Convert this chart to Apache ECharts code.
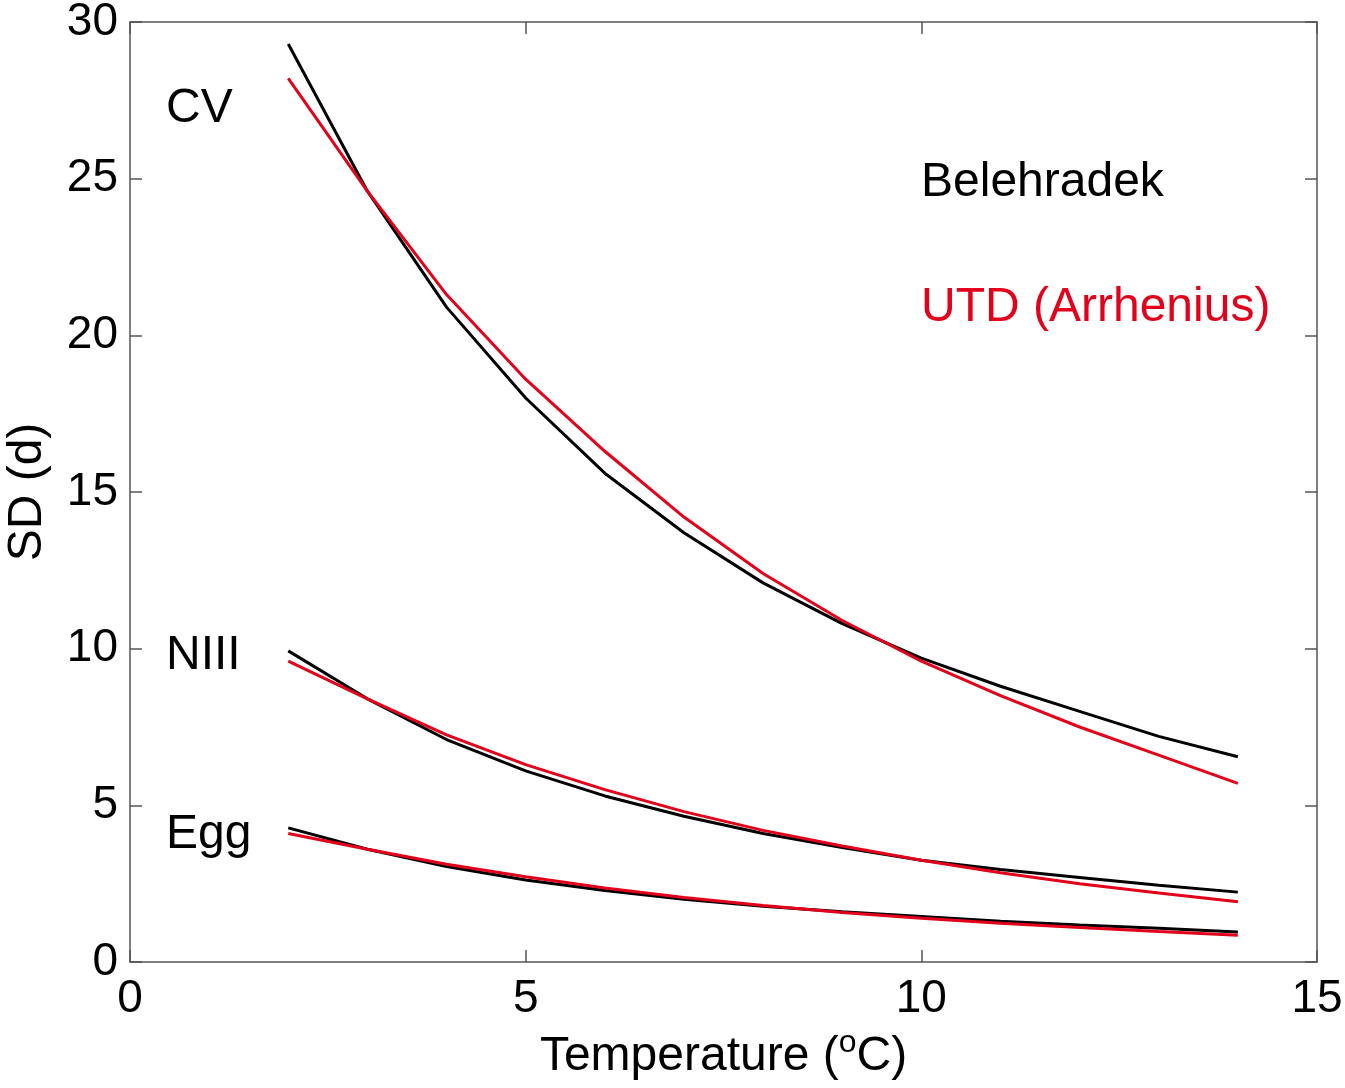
<!DOCTYPE html>
<html>
<head>
<meta charset="utf-8">
<script src="https://cdn.jsdelivr.net/npm/echarts@6/dist/echarts.min.js"></script>
<style>
  html, body { margin: 0; padding: 0; background: #fff; }
  #chart { width: 1345px; height: 1088px; }
</style>
</head>
<body>
<div id="chart"></div>
<script>
// Temperature (°C) at which standard deviation of stage duration is evaluated
const temps = [2, 3, 4, 5, 6, 7, 8, 9, 10, 11, 12, 13, 14];

// Belehradek model (black)
const cvBel   = [29.3, 24.6, 20.9, 18.0, 15.6, 13.7, 12.1, 10.8, 9.7, 8.8, 8.0, 7.2, 6.55];
const n3Bel   = [9.93, 8.4, 7.1, 6.1, 5.3, 4.65, 4.1, 3.65, 3.25, 2.95, 2.7, 2.45, 2.23];
const eggBel  = [4.28, 3.6, 3.05, 2.62, 2.28, 2.0, 1.78, 1.6, 1.45, 1.3, 1.18, 1.08, 0.96];

// UTD (Arrhenius) model (red)
const cvArr   = [28.2, 24.6, 21.3, 18.6, 16.3, 14.2, 12.4, 10.9, 9.6, 8.5, 7.5, 6.6, 5.7];
const n3Arr   = [9.6, 8.4, 7.25, 6.3, 5.5, 4.8, 4.2, 3.7, 3.25, 2.85, 2.5, 2.2, 1.92];
const eggArr  = [4.1, 3.6, 3.12, 2.72, 2.36, 2.06, 1.8, 1.58, 1.4, 1.24, 1.1, 0.97, 0.85];

const BLACK = '#000000';
const RED = '#e3001b';
const FONT = '"Liberation Sans", Arial, Helvetica, sans-serif';

function pairs(xs, ys) { return xs.map((x, i) => [x, ys[i]]); }

function curve(name, ys, color) {
  return {
    name, type: 'line', data: pairs(temps, ys),
    showSymbol: false, smooth: false,
    lineStyle: { color, width: 3 },
    itemStyle: { color },
    z: color === RED ? 3 : 2
  };
}

const axisLine = { show: true, onZero: false, lineStyle: { color: '#555', width: 1.5 } };
const tickStyle = { show: true, inside: true, length: 12, lineStyle: { color: '#555', width: 1.5 } };

const chart = echarts.init(document.getElementById('chart'));
chart.setOption({
  backgroundColor: '#fff',
  animation: false,
  grid: { left: 130, right: 28, top: 22, bottom: 126, containLabel: false, outerBoundsMode: 'none' },
  xAxis: [
    {
      type: 'value', min: 0, max: 15, interval: 5, position: 'bottom',
      axisLine, axisTick: tickStyle, splitLine: { show: false },
      axisLabel: { color: '#000', fontSize: 46, fontFamily: FONT, margin: 14 },
      name: 'Temperature ({sup|o}C)', nameLocation: 'middle', nameGap: 64,
      nameTextStyle: {
        color: '#000', fontSize: 48, fontFamily: FONT, lineHeight: 60, verticalAlign: 'top',
        rich: {
          sup: { fontSize: 32, fontFamily: FONT, color: '#000', verticalAlign: 'top', lineHeight: 32 }
        }
      }
    },
    {
      type: 'value', min: 0, max: 15, interval: 5, position: 'top',
      axisLine, axisTick: tickStyle, axisLabel: { show: false }, splitLine: { show: false }
    }
  ],
  yAxis: [
    {
      type: 'value', min: 0, max: 30, interval: 5, position: 'left',
      axisLine, axisTick: tickStyle, splitLine: { show: false },
      axisLabel: { color: '#000', fontSize: 46, fontFamily: FONT, margin: 12 },
      name: 'SD (d)', nameLocation: 'middle', nameGap: 78, nameRotate: 90,
      nameTextStyle: { color: '#000', fontSize: 48, fontFamily: FONT }
    },
    {
      type: 'value', min: 0, max: 30, interval: 5, position: 'right',
      axisLine, axisTick: tickStyle, axisLabel: { show: false }, splitLine: { show: false }
    }
  ],
  series: [
    curve('CV Belehradek', cvBel, BLACK),
    curve('CV UTD', cvArr, RED),
    curve('NIII Belehradek', n3Bel, BLACK),
    curve('NIII UTD', n3Arr, RED),
    curve('Egg Belehradek', eggBel, BLACK),
    curve('Egg UTD', eggArr, RED)
  ],
  graphic: [
    { type: 'text', x: 166, y: 109, style: { text: 'CV', fill: '#000', font: '48px ' + FONT, verticalAlign: 'middle' } },
    { type: 'text', x: 166, y: 656, style: { text: 'NIII', fill: '#000', font: '48px ' + FONT, verticalAlign: 'middle' } },
    { type: 'text', x: 166, y: 835, style: { text: 'Egg', fill: '#000', font: '48px ' + FONT, verticalAlign: 'middle' } },
    { type: 'text', x: 921, y: 183, style: { text: 'Belehradek', fill: BLACK, font: '48px ' + FONT, verticalAlign: 'middle' } },
    { type: 'text', x: 921, y: 308, style: { text: 'UTD (Arrhenius)', fill: RED, font: '48px ' + FONT, verticalAlign: 'middle' } }
  ]
});
</script>
</body>
</html>
